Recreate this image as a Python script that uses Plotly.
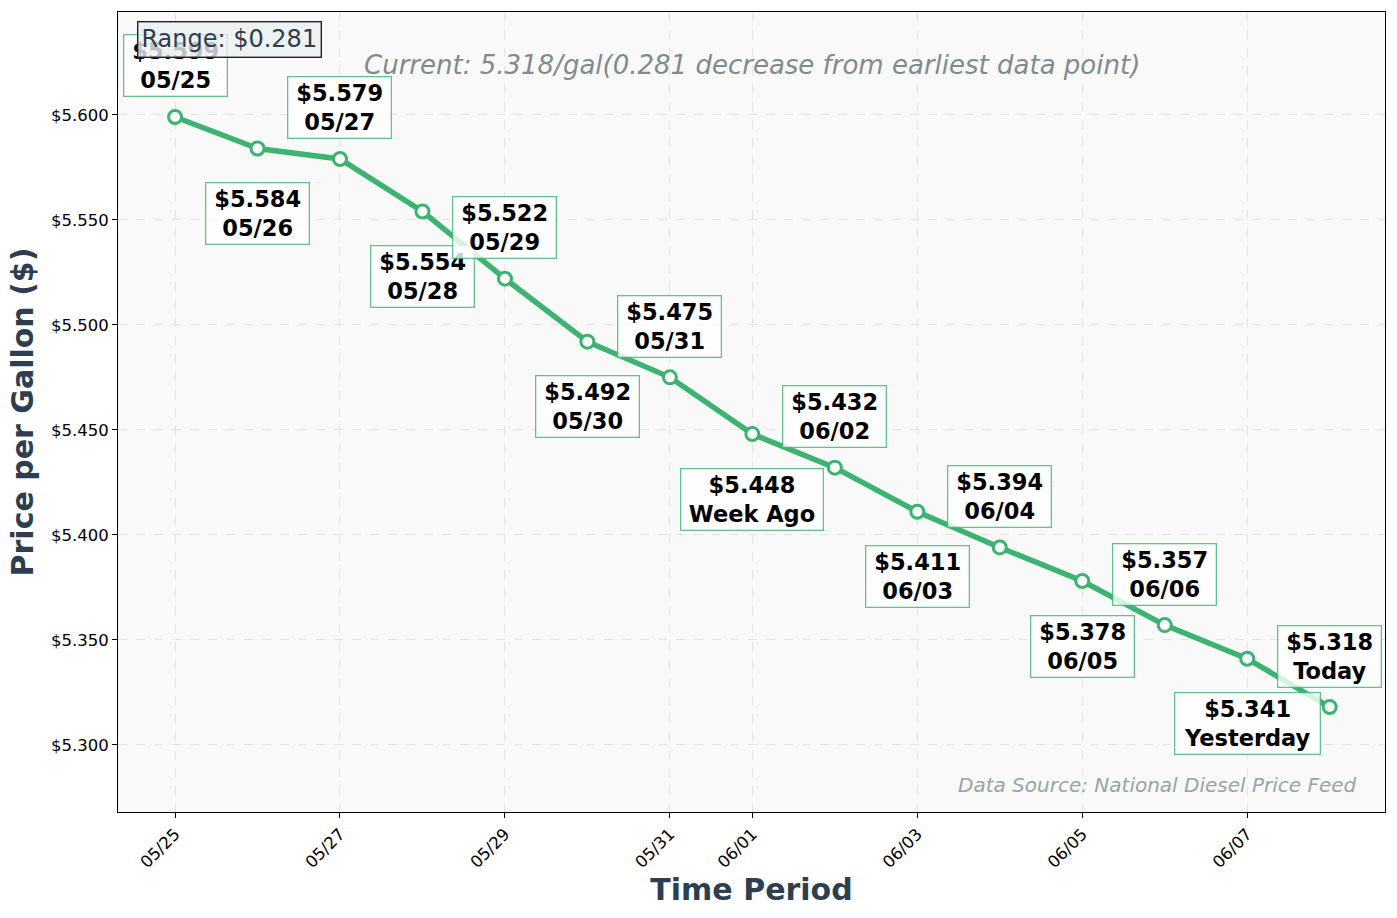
import plotly.graph_objects as go
import pandas as pd

# ---- data ----
dates = ["2024-05-25", "2024-05-26", "2024-05-27", "2024-05-28", "2024-05-29",
         "2024-05-30", "2024-05-31", "2024-06-01", "2024-06-02", "2024-06-03",
         "2024-06-04", "2024-06-05", "2024-06-06", "2024-06-07", "2024-06-08"]
prices = [5.599, 5.584, 5.579, 5.554, 5.522, 5.492, 5.475, 5.448, 5.432, 5.411,
          5.394, 5.378, 5.357, 5.341, 5.318]
point_labels = ["05/25", "05/26", "05/27", "05/28", "05/29", "05/30", "05/31",
                "Week Ago", "06/02", "06/03", "06/04", "06/05", "06/06",
                "Yesterday", "Today"]
x_tick_dates = ["2024-05-25", "2024-05-27", "2024-05-29", "2024-05-31",
                "2024-06-01", "2024-06-03", "2024-06-05", "2024-06-07"]
x_tick_labels = ["05/25", "05/27", "05/29", "05/31", "06/01", "06/03", "06/05", "06/07"]
y_tick_vals = [5.300, 5.350, 5.400, 5.450, 5.500, 5.550, 5.600]
y_tick_labels = ["$5.300", "$5.350", "$5.400", "$5.450", "$5.500", "$5.550", "$5.600"]

GREEN = "#3cb371"
DARK = "#2c3e50"
FONT = "DejaVu Sans"

price_range = max(prices) - min(prices)
current = prices[-1]

fig = go.Figure()
fig.add_trace(go.Scatter(
    x=dates, y=prices, mode="lines+markers",
    line=dict(color=GREEN, width=5.5),
    marker=dict(size=13, color="white", line=dict(color=GREEN, width=3)),
    showlegend=False, hoverinfo="skip",
))

# approximate DejaVu Sans Bold advance widths (em)
W = {'$': .696, '.': .38, '/': .365, ' ': .348, 'W': 1.03, 'e': .678, 'k': .665,
     'A': .774, 'g': .716, 'o': .687, 'Y': .724, 's': .595, 't': .478, 'r': .493,
     'd': .716, 'a': .675, 'y': .652, 'T': .682}
LABEL_FS = 22.5


def text_w(s):
    return sum(W.get(c, .696) for c in s) * LABEL_FS


for i, (d, p, lab) in enumerate(zip(dates, prices, point_labels)):
    top = f"${p:.3f}"
    tw = max(text_w(top), text_w(lab))
    above = (i % 2 == 0)
    fig.add_annotation(
        x=d, y=p, xref="x", yref="y",
        text=f"<b>{top}<br>{lab}</b>", showarrow=False,
        yshift=51 if above else -65, xanchor="center", yanchor="middle",
        font=dict(family=FONT, size=LABEL_FS, color="black"),
        bgcolor="rgba(255,255,255,0.8)", bordercolor="rgba(60,179,113,0.8)",
        borderwidth=1.3, borderpad=2, width=tw + 12, height=56,
    )

fig.add_annotation(
    x=0.5, y=0.934, xref="paper", yref="paper", showarrow=False,
    text=f"<i>Current: {current:.3f}/gal({price_range:.3f} decrease from earliest data point)</i>",
    font=dict(family=FONT, size=26, color="#7f8c8d"), xanchor="center", yanchor="middle",
)
fig.add_annotation(
    x=0.9795, y=0.034, xref="paper", yref="paper", showarrow=False,
    text="<i>Data Source: National Diesel Price Feed</i>",
    font=dict(family=FONT, size=20, color="#95a5a6"), xanchor="right", yanchor="middle",
)
fig.add_annotation(
    x=0.015, y=0.989, xref="paper", yref="paper", showarrow=False,
    text=f"Range: ${price_range:.3f}",
    font=dict(family=FONT, size=24, color=DARK), xanchor="left", yanchor="top",
    bgcolor="rgba(236,240,241,0.8)", bordercolor="#222222", borderwidth=1.4, borderpad=3,
)

t0 = pd.Timestamp(dates[0])
t1 = pd.Timestamp(dates[-1])
x_range = [t0 - pd.Timedelta(hours=16.6), t1 + pd.Timedelta(hours=16.1)]

fig.update_layout(
    width=1397, height=918,
    margin=dict(l=118, r=12, t=12, b=106),
    paper_bgcolor="white", plot_bgcolor="#f9f9f9",
    font=dict(family=FONT, color="black"),
    xaxis=dict(
        range=x_range, tickvals=x_tick_dates, ticktext=x_tick_labels,
        tickangle=-45, tickfont=dict(size=16.5, color="black"),
        ticks="outside", ticklen=5, tickcolor="black",
        showline=True, linecolor="black", linewidth=1, mirror=True,
        showgrid=True, gridcolor="#e3e3e3", griddash="dash", gridwidth=1,
        zeroline=False,
        title=dict(text="<b>Time Period</b>", font=dict(size=30, color=DARK), standoff=8),
    ),
    yaxis=dict(
        range=[5.268, 5.649], tickvals=y_tick_vals, ticktext=y_tick_labels,
        tickfont=dict(size=16.5, color="black"),
        ticks="outside", ticklen=5, tickcolor="black",
        showline=True, linecolor="black", linewidth=1, mirror=True,
        showgrid=True, gridcolor="#e3e3e3", griddash="dash", gridwidth=1,
        zeroline=False,
        title=dict(text="<b>Price per Gallon ($)</b>", font=dict(size=30, color=DARK), standoff=8),
    ),
)

fig.write_html("out.html")
